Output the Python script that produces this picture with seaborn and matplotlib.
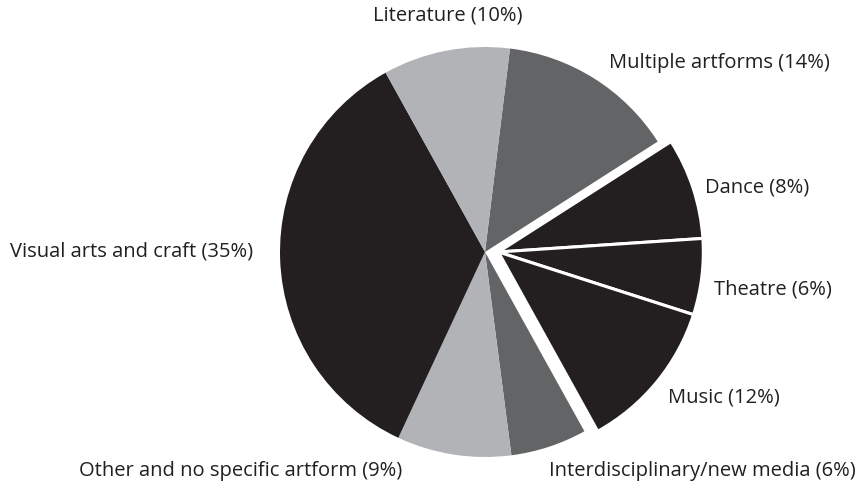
import matplotlib
matplotlib.use('Agg')
import matplotlib.pyplot as plt
import seaborn as sns

# Data (clockwise from just right of 12 o'clock)
labels = ['Multiple artforms', 'Dance', 'Theatre', 'Music',
          'Interdisciplinary/new media', 'Other and no specific artform',
          'Visual arts and craft', 'Literature']
shares = [14, 8, 6, 12, 6, 9, 35, 10]
colors = ['#636466', '#231f20', '#231f20', '#231f20',
          '#636466', '#b1b3b6', '#231f20', '#b1b3b6']
pulled_out = ['Dance', 'Theatre', 'Music']

sns.set_theme(style='white')
plt.rcParams['font.family'] = ['Open Sans', 'DejaVu Sans']

fig = plt.figure(figsize=(8.6, 4.87), dpi=100)
ax = fig.add_axes([0, 0, 1, 1])

wedges, _ = ax.pie(shares, colors=colors, startangle=83, counterclock=False,
                   wedgeprops=dict(linewidth=0))

# shift the performing arts group out a little, as one block
for w, lab in zip(wedges, labels):
    if lab in pulled_out:
        w.set_center((0.065, 0.0))
        w.set_edgecolor('white')
        w.set_linewidth(2.2)
        w.set_zorder(3)

# 205 px per unit, centre at (485, 252) px
ax.set_xlim(-485 / 205, 375 / 205)
ax.set_ylim(-235 / 205, 252 / 205)
ax.set_aspect('auto')
ax.axis('off')

# label positions in pixels (x, y, ha)
label_pos = {
    'Literature': (448, 16, 'center'),
    'Multiple artforms': (609, 63, 'left'),
    'Dance': (705, 188, 'left'),
    'Theatre': (714, 289, 'left'),
    'Music': (668, 397, 'left'),
    'Interdisciplinary/new media': (856, 471, 'right'),
    'Other and no specific artform': (402, 471, 'right'),
    'Visual arts and craft': (10, 251, 'left'),
}
for lab, val in zip(labels, shares):
    x, y, ha = label_pos[lab]
    fig.text(x / 860, 1 - y / 487, f'{lab} ({val}%)', ha=ha, va='center',
             fontsize=14.5, color='#231f20')

fig.savefig('out.png', dpi=100)
